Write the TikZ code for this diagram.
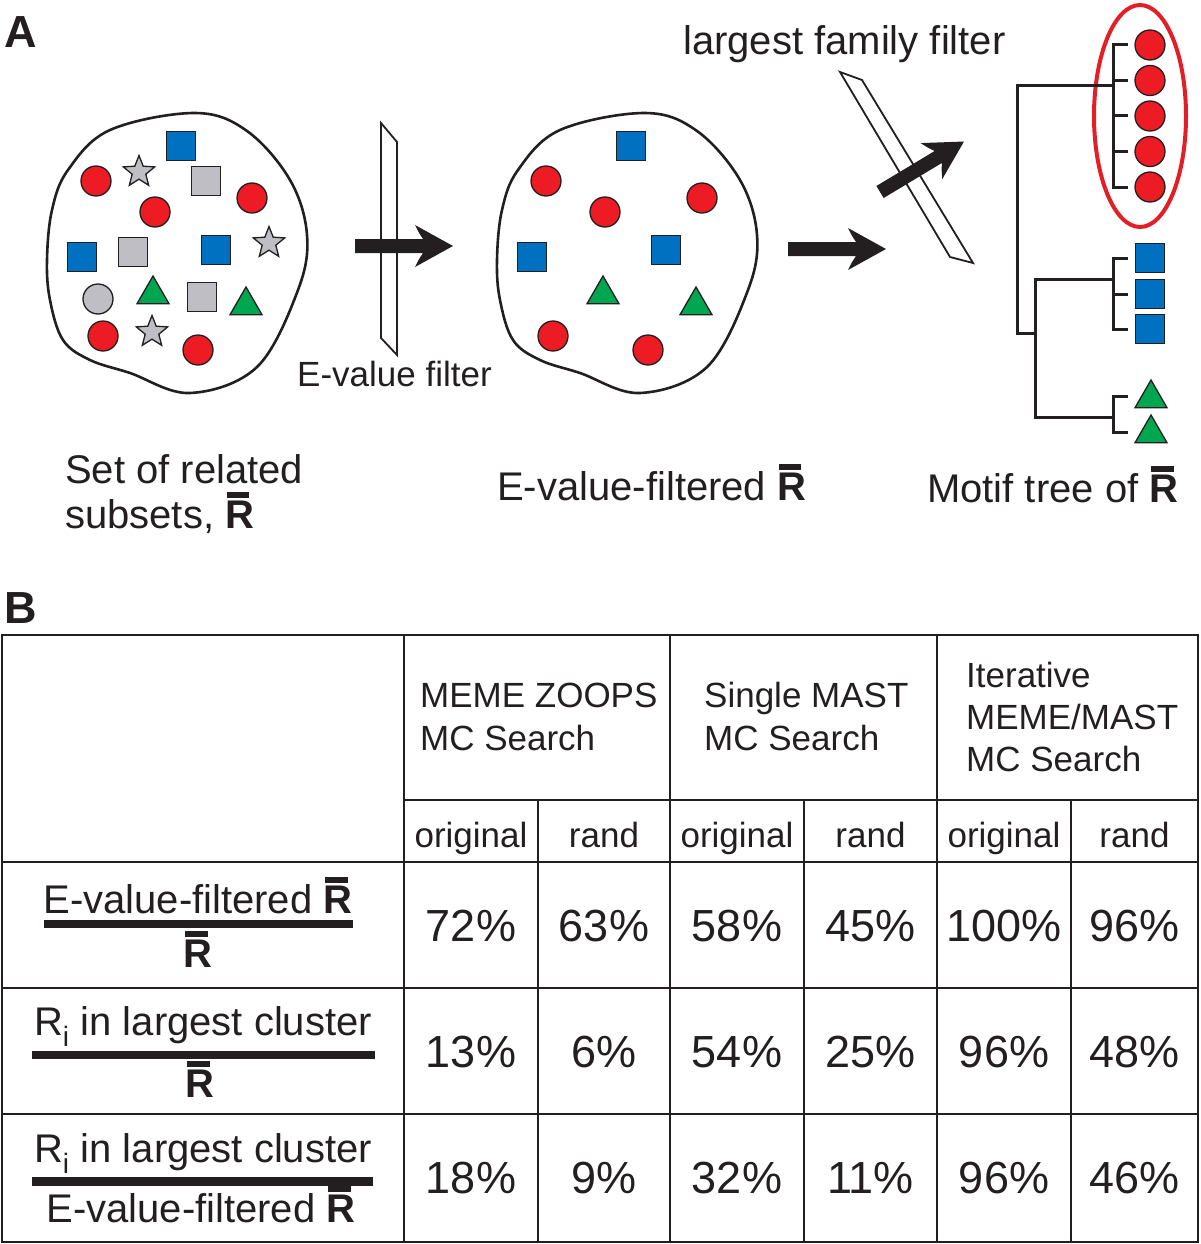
\documentclass[tikz,border=0pt]{standalone}
\usepackage{fontspec}
\setmainfont{Liberation Sans}
\usetikzlibrary{positioning,shapes.geometric}
\definecolor{redfill}{RGB}{237,28,36}
\definecolor{bluefill}{RGB}{0,112,192}
\definecolor{greenfill}{RGB}{0,166,80}
\definecolor{grayfill}{RGB}{190,190,196}
\definecolor{inkcolor}{RGB}{35,31,32}
\definecolor{famred}{RGB}{228,30,38}
\newcommand{\rbar}{{\bfseries\ooalign{R\cr\kern0.04em\rule[0.76em]{0.56em}{0.14em}\hfil\cr}}}
\newcommand{\rsub}{R\textsubscript{i}}
\tikzset{fatarrow/.pic={\fill[inkcolor] (0,-7) -- (68,-7) .. controls (64,-13) .. (60,-21) -- (98,0) -- (60,21) .. controls (64,13) .. (68,7) -- (0,7) -- cycle;}}

\begin{document}
\begin{tikzpicture}[x=1pt,y=-1pt,inner sep=0,text=inkcolor,
  big/.style={font=\fontsize{40}{46}\selectfont},
  mid/.style={font=\fontsize{35}{42}\selectfont},
  panel/.style={font=\fontsize{45}{50}\selectfont\bfseries,anchor=base west},
  pct/.style={font=\fontsize{45}{50}\selectfont,anchor=base},
  mk/.style={draw=inkcolor,line width=1.3pt,inner sep=0},
  redc/.style={mk,circle,fill=redfill,minimum size=30pt},
  bluesq/.style={mk,rectangle,fill=bluefill,minimum size=28.5pt},
  greentri/.style={mk,regular polygon,regular polygon sides=3,fill=greenfill,minimum size=37pt},
  graysq/.style={mk,rectangle,fill=grayfill,minimum size=28.5pt},
  grayc/.style={mk,circle,fill=grayfill,minimum size=30pt},
  graystar/.style={mk,star,star points=5,star point ratio=2.3,fill=grayfill,minimum size=33pt},
  blob/.style={draw=inkcolor,line width=2.6pt},
  filt/.style={draw=inkcolor,fill=white,line width=1.8pt},
  tree/.style={draw=inkcolor,line width=3pt},
  grid/.style={draw=inkcolor,line width=2pt}]
\useasboundingbox (0,0) rectangle (1200,1244);

% panel A
\node[panel] (labA) at (4,48) {A};

% the two sets, colored motifs kept in both
\foreach \dx in {0,450} {
\begin{scope}[xshift=\dx]
\draw[blob] plot[smooth cycle,tension=0.6] coordinates {(195,113) (247,131) (290,180) (307,235) (298,290) (257,367) (190,393) (130,373) (90,360) (63,340) (50,300) (47,260) (52,210) (68,170) (110,130)};
\foreach \x/\y [count=\i] in {96/181,252/198,155/212,103/336,198/350}
  \node[redc] (red\dx-\i) at (\x,\y) {};
\foreach \x/\y [count=\i] in {181/146,82/257,216/250}
  \node[bluesq] (blue\dx-\i) at (\x,\y) {};
\foreach \x/\y [count=\i] in {153/294.5,246/305.5}
  \node[greentri] (green\dx-\i) at (\x,\y) {};
\end{scope}
}
% motifs removed by the E-value filter
\foreach \x/\y [count=\i] in {139/172,269/243,152/332}
  \node[graystar] (star\i) at (\x,\y) {};
\foreach \x/\y [count=\i] in {206/181,133/252,202/297}
  \node[graysq] (gsq\i) at (\x,\y) {};
\node[grayc] (gc1) at (98,299) {};

% filters and arrows
\draw[filt] (381,123) -- (397,142) -- (397,355) -- (381,338) -- cycle;
\pic at (355,246) {fatarrow};
\draw[filt] (840,72) -- (862,80) -- (973,263) -- (950,257) -- cycle;
\pic at (788,249) {fatarrow};
\pic[rotate=31] at (880,192) {fatarrow};

% motif tree
\node[ellipse,draw=famred,line width=4pt,minimum width=92pt,minimum height=222pt] (fam) at (1140,116) {};
\foreach \i in {1,...,5}
  \node[redc] (c\i) at (1150,{45+35.5*(\i-1)}) {};
\foreach \y [count=\i] in {258,294,329}
  \node[bluesq] (s\i) at (1150,\y) {};
\foreach \y [count=\i] in {398.5,433.5}
  \node[greentri] (t\i) at (1151,\y) {};
\draw[tree] (1128,0 |- c1) -| (1113,0 |- c5) -- (1128,0 |- c5);
\foreach \n in {c2,c3,c4} \draw[tree] (1113,0 |- \n) -- (1128,0 |- \n);
\draw[tree] (1128,0 |- s1) -| (1113,0 |- s3) -- (1128,0 |- s3);
\draw[tree] (1113,0 |- s2) -- (1128,0 |- s2);
\draw[tree] (1128,396) -| (1113,432) -- (1128,432);
\draw[tree] (1113,86) -| (1017,333) -- (1035,333);
\draw[tree] (1113,279) -| (1035,417) -- (1113,417);

% captions
\node[big,anchor=base west] (famlbl) at (683,55) {largest family filter};
\node[mid,anchor=base west] (evlbl) at (297,386) {E-value filter};
\node[big,anchor=base west] (set1) at (65,483) {Set of related};
\node[big,anchor=base west] (set2) at (65,528) {subsets, \rbar};
\node[big,anchor=base west] (evset) at (497,500) {E-value-filtered \rbar};
\node[big,anchor=base west] (treelbl) at (927,502) {Motif tree of \rbar};

% panel B
\node[panel] (labB) at (4,623) {B};
\draw[grid,line width=2.5pt] (2,635) rectangle (1198,1242);
\foreach \x in {404,670,937} \draw[grid] (\x,635) -- (\x,1242);
\foreach \x in {538,804,1071} \draw[grid] (\x,800) -- (\x,1242);
\draw[grid] (404,800) -- (1198,800);
\foreach \y in {862,988,1114} \draw[grid] (2,\y) -- (1198,\y);

\node[mid,anchor=base west] (h1a) at (420,707) {MEME ZOOPS};
\node[mid,anchor=base west] (h1b) at (420,750) {MC Search};
\node[mid,anchor=base west] (h2a) at (704,707) {Single MAST};
\node[mid,anchor=base west] (h2b) at (704,750) {MC Search};
\node[mid,anchor=base west] (h3a) at (966,687) {Iterative};
\node[mid,anchor=base west] (h3b) at (966,729) {MEME/MAST};
\node[mid,anchor=base west] (h3c) at (966,771) {MC Search};
\foreach \x/\t [count=\i] in {471/original,604/rand,737/original,870.5/rand,1004/original,1134.5/rand}
  \node[mid,anchor=base] (sub\i) at (\x,847) {\t};

% row labels
\node[big,anchor=base] (r1n) at (198,913) {E-value-filtered \rbar};
\fill[inkcolor] (44,920) rectangle (353,928);
\node[big,anchor=base] (r1d) at (198,967) {\rbar};
\node[big,anchor=base] (r2n) at (203,1035) {\rsub{} in largest cluster};
\fill[inkcolor] (32,1051) rectangle (375,1059);
\node[big,anchor=base] (r2d) at (200,1097) {\rbar};
\node[big,anchor=base] (r3n) at (203,1162) {\rsub{} in largest cluster};
\fill[inkcolor] (32,1177) rectangle (373,1186);
\node[big,anchor=base] (r3d) at (201,1222) {E-value-filtered \rbar};

% values
\foreach \y/\vals [count=\r] in {941/{72,63,58,45,100,96},1067/{13,6,54,25,96,48},1193/{18,9,32,11,96,46}} {
  \foreach \v [count=\c] in \vals {
    \pgfmathsetmacro{\cx}{{471,604,737,870.5,1004,1134.5}[\c-1]}
    \node[pct] (p\r\c) at (\cx,\y) {\v\%};
  }
}
\end{tikzpicture}
\end{document}
